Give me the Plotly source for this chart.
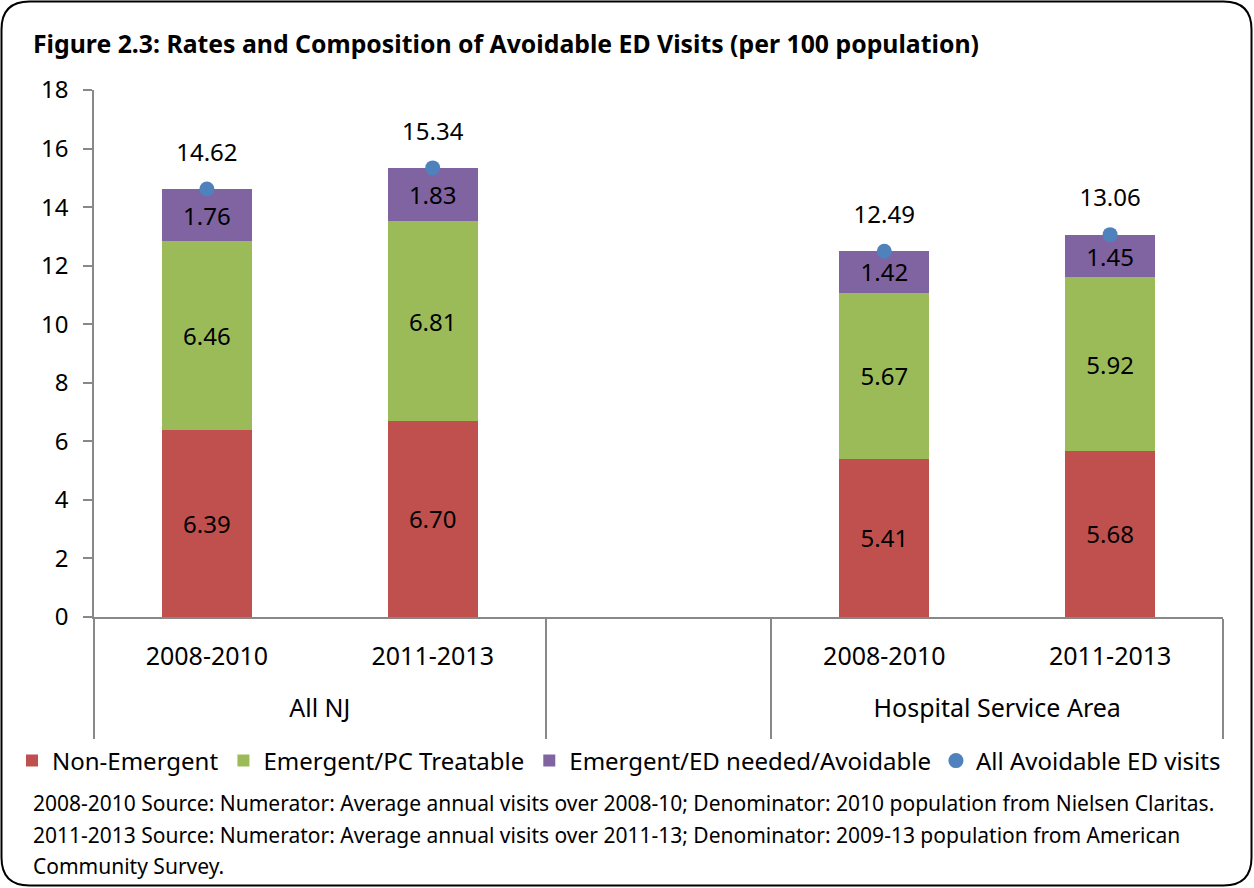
import plotly.graph_objects as go

# ---------------- data ----------------
groups = ["All NJ", "All NJ", " ", "Hospital Service Area", "Hospital Service Area"]
periods = ["2008-2010", "2011-2013", " ", "2008-2010", "2011-2013"]
non_emergent = [6.39, 6.70, None, 5.41, 5.68]
emergent_pc = [6.46, 6.81, None, 5.67, 5.92]
emergent_ed = [1.76, 1.83, None, 1.42, 1.45]
all_avoidable = [14.62, 15.34, None, 12.49, 13.06]
y_ticks = [0, 2, 4, 6, 8, 10, 12, 14, 16, 18]

series_names = ["Non-Emergent", "Emergent/PC Treatable", "Emergent/ED needed/Avoidable"]
colors = ["#C0504D", "#9BBB59", "#8064A2"]
dot_name = "All Avoidable ED visits"
dot_color = "#4F81BD"

title_text = "Figure 2.3: Rates and Composition of Avoidable ED Visits (per 100 population)"
footnotes = [
    "2008-2010 Source: Numerator: Average annual visits over 2008-10; Denominator: 2010 population from Nielsen Claritas.",
    "2011-2013 Source: Numerator: Average annual visits over 2011-13; Denominator: 2009-13 population from American",
    "Community Survey.",
]

# ---------------- layout geometry ----------------
W, H = 1254, 888
L, R, T, B = 94, 31, 90, 271
PW, PH = W - L - R, H - T - B
FONT = "Noto Sans"
AXIS_GRAY = "#888888"


def px(xp):
    return (xp - L) / PW


def py(yp):
    return (H - B - yp) / PH


def fmt(v):
    return "" if v is None else f"{v:.2f}"


# outer group labels sit one (blank) line lower, and the dividers reach further down
outer_labels = ["&nbsp;<br>" + g + "<br>&nbsp;" for g in groups]
x = [outer_labels, periods]

fig = go.Figure()
for name, vals, col in zip(series_names, [non_emergent, emergent_pc, emergent_ed], colors):
    fig.add_trace(go.Bar(
        x=x, y=vals, name=name, marker=dict(color=col, line=dict(width=0)),
        text=[fmt(v) for v in vals], textposition="inside", insidetextanchor="middle",
        constraintext="none", textangle=0,
        textfont=dict(family=FONT, size=24, color="black"),
    ))

fig.add_trace(go.Scatter(
    x=x, y=all_avoidable, name=dot_name, mode="markers",
    marker=dict(color=dot_color, size=15), cliponaxis=False,
))
fig.add_trace(go.Scatter(
    x=x, y=all_avoidable, mode="markers+text", showlegend=False, hoverinfo="skip",
    marker=dict(color="rgba(0,0,0,0)", size=34),
    text=[fmt(v) for v in all_avoidable], textposition="top center",
    textfont=dict(family=FONT, size=24, color="black"), cliponaxis=False,
))

annotations = []
for i, line in enumerate(footnotes):
    annotations.append(dict(
        text=line, xref="paper", yref="paper", x=px(31), y=py([803, 835, 866][i]),
        xanchor="left", yanchor="middle", showarrow=False, align="left",
        font=dict(family=FONT, size=21, color="black"),
    ))

# rounded frame
x0, y0, x1, y1, r = 1.5, 1.5, 1251.5, 885.5, 28
path = (
    f"M {px(x0 + r)},{py(y0)} L {px(x1 - r)},{py(y0)} Q {px(x1)},{py(y0)} {px(x1)},{py(y0 + r)} "
    f"L {px(x1)},{py(y1 - r)} Q {px(x1)},{py(y1)} {px(x1 - r)},{py(y1)} "
    f"L {px(x0 + r)},{py(y1)} Q {px(x0)},{py(y1)} {px(x0)},{py(y1 - r)} "
    f"L {px(x0)},{py(y0 + r)} Q {px(x0)},{py(y0)} {px(x0 + r)},{py(y0)} Z"
)

fig.update_layout(
    width=W, height=H,
    margin=dict(l=L, r=R, t=T, b=B, pad=0, autoexpand=False),
    paper_bgcolor="white", plot_bgcolor="white",
    barmode="stack", bargap=0.6,
    font=dict(family=FONT, size=24, color="black"),
    title=dict(
        text=f"<b>{title_text}</b>", xref="container", yref="container",
        x=33 / W, y=1 - 44 / H, xanchor="left", yanchor="middle",
        font=dict(family=FONT, size=24.8, color="black"),
    ),
    legend=dict(
        orientation="h", x=px(12), y=py(761), xanchor="left", yanchor="middle",
        font=dict(family=FONT, size=24, color="black"), traceorder="normal",
        itemwidth=30, tracegroupgap=0,
    ),
    annotations=annotations,
    shapes=[dict(type="path", path=path, xref="paper", yref="paper",
                 line=dict(color="black", width=2), layer="above")],
    showlegend=True,
)

fig.update_yaxes(
    range=[0, 18], tickvals=y_ticks, showgrid=False, zeroline=False,
    showline=True, linecolor=AXIS_GRAY, linewidth=1.5,
    ticks="outside", ticklen=9, tickcolor=AXIS_GRAY, tickwidth=1.5,
    ticklabelstandoff=10, tickfont=dict(family=FONT, size=24, color="black"),
)
fig.update_xaxes(
    type="multicategory", showgrid=False, zeroline=False,
    showline=True, linecolor=AXIS_GRAY, linewidth=1.5, ticks="",
    showdividers=True, dividercolor=AXIS_GRAY, dividerwidth=1.5,
    ticklabelstandoff=16, tickangle=0,
    tickfont=dict(family=FONT, size=25, color="black"),
)

fig.write_html(
    "out.html",
    config={"displayModeBar": False},
    post_script="document.body.style.margin='0';document.body.style.overflow='hidden';",
)
